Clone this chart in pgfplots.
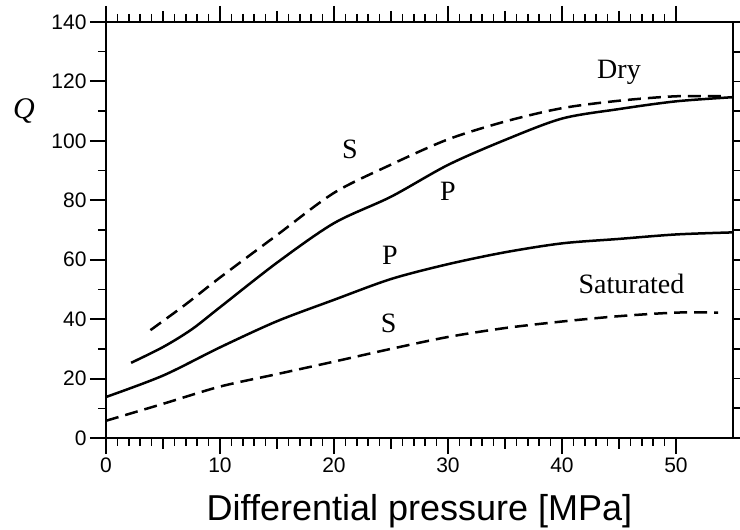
\documentclass[border=0pt]{standalone}
\usepackage{fontspec}
\setmainfont{Liberation Serif}
\setsansfont{Liberation Sans}
\usepackage{pgfplots}
\pgfplotsset{compat=1.18}
\usetikzlibrary{calc}
\begin{document}
\begin{tikzpicture}
\begin{axis}[name=ax, scale only axis, width=627pt, height=416pt,
  xmin=0, xmax=55, ymin=0, ymax=140,
  xtick={0,10,...,50}, ytick={0,20,...,140},
  minor x tick num=9, minor y tick num=1,
  tick align=outside, major tick length=16pt, minor tick length=8pt,
  ytick pos=left, xticklabel pos=lower,
  extra x ticks={5,15,25,35,45}, extra x tick labels={},
  extra x tick style={major tick length=11pt},
  axis line style={line width=2.8pt},
  every tick/.style={black, line width=2pt},
  every minor tick/.style={black, line width=1.5pt},
  tick label style={font=\sffamily\fontsize{21}{24}\selectfont},
  /pgf/number format/assume math mode=true,
  xlabel={\sffamily\fontsize{36}{40}\selectfont Differential pressure [MPa]},
  xlabel style={yshift=12pt},
  clip=false,
]
\addplot[black, line width=2.5pt, smooth] coordinates {(2.2,25.3)(5,30.6)(7.5,36.5)(10,44)(15,59)(20,72.3)(25,81.2)(30,91.9)(35,100.3)(40,107.5)(45,110.7)(50,113.3)(55,114.7)};
\addplot[black, line width=2.5pt, smooth, dash pattern=on 13pt off 7pt] coordinates {(3.9,36.3)(7,45)(10,54)(15,68.3)(20,82.5)(25,92)(30,100.5)(35,106.5)(40,111)(45,113.5)(50,115)(54.5,115)};
\addplot[black, line width=2.5pt, smooth] coordinates {(0,13.8)(5,21)(10,30.5)(15,39.3)(20,46.5)(25,53.5)(30,58.5)(35,62.5)(40,65.5)(45,67)(50,68.5)(55,69.2)};
\addplot[black, line width=2.5pt, smooth, dash pattern=on 13pt off 7pt] coordinates {(0,5.8)(5,11.5)(10,17.3)(15,21.5)(20,25.7)(25,30)(30,34)(35,37)(40,39.2)(45,41)(50,42.2)(53.7,42.2)};
\node[font=\fontsize{28}{32}\selectfont] at (axis cs:45,123) {Dry};
\node[font=\fontsize{28}{32}\selectfont] at (axis cs:21.4,97) {S};
\node[font=\fontsize{28}{32}\selectfont] at (axis cs:30,83) {P};
\node[font=\fontsize{28}{32}\selectfont] at (axis cs:24.9,61.6) {P};
\node[font=\fontsize{28}{32}\selectfont] at (axis cs:46.1,51.8) {Saturated};
\node[font=\fontsize{28}{32}\selectfont] at (axis cs:24.8,38.7) {S};
\node[font=\fontsize{30}{34}\selectfont\itshape] at (axis cs:0,110) [xshift=-82pt] {Q};
\end{axis}
\begin{axis}[scale only axis, width=627pt, height=416pt,
  xmin=0, xmax=55, ymin=0, ymax=140,
  axis x line=none, axis y line*=right,
  ytick={0,10,...,140}, yticklabels={},
  tick align=outside, major tick length=8pt,
  axis line style={line width=2.8pt},
  every tick/.style={black, line width=1.6pt},
]
\end{axis}
\pgfresetboundingbox
\path ($(ax.south west)+(-106pt,-92pt)$) rectangle ($(ax.north east)+(7pt,22pt)$);
\end{tikzpicture}
\end{document}
